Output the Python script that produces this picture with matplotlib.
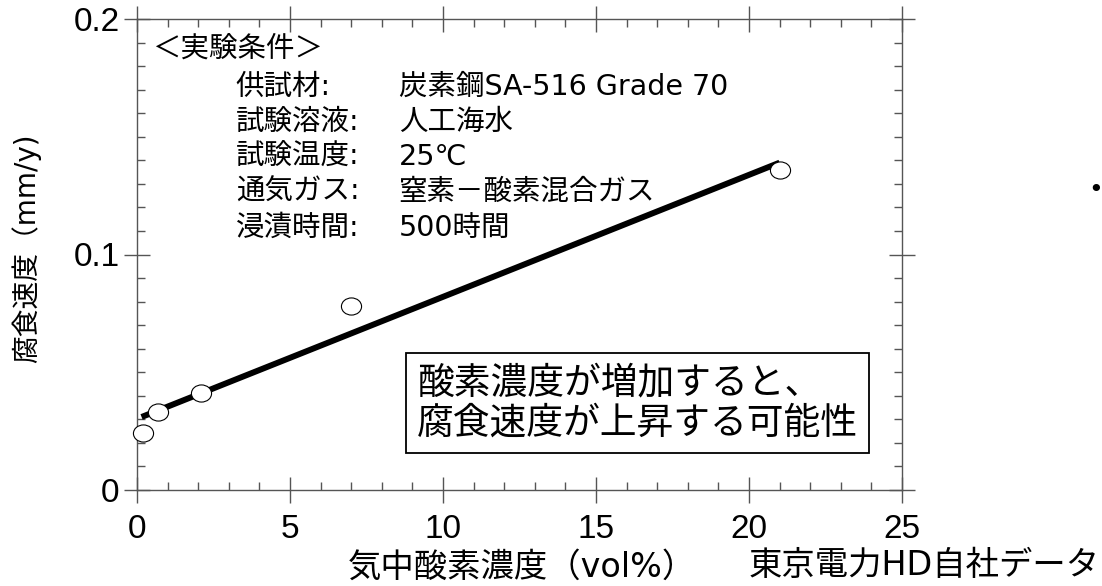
import matplotlib.pyplot as plt
from matplotlib.path import Path
from matplotlib.transforms import Affine2D
from matplotlib.ticker import MultipleLocator

plt.rcParams['font.family'] = ['DejaVu Sans', 'Noto Sans CJK JP']

# データ
o2_conc = [0.2, 0.7, 2.1, 7.0, 21.0]          # 気中酸素濃度 (vol%)
corr_rate = [0.024, 0.033, 0.041, 0.078, 0.136]  # 腐食速度 (mm/y)
fit_x = [0.15, 21.0]
fit_y = [0.031, 0.139]

y_ticks = [0, 0.1, 0.2]
y_ticklabels = ["0", "0.1", "0.2"]

cond_labels = ["供試材:", "試験溶液:", "試験温度:", "通気ガス:", "浸漬時間:"]
cond_values = ["炭素鋼SA-516 Grade 70", "人工海水", "25℃", "窒素－酸素混合ガス", "500時間"]

spine_col = "#555555"

fig = plt.figure(figsize=(11.02, 5.86), dpi=100)
ax = fig.add_axes([137 / 1102, 96 / 586, 765 / 1102, 471 / 586])

ax.plot(fit_x, fit_y, color="black", lw=4.3, solid_capstyle="butt", zorder=2)

ellipse = Path.unit_circle().transformed(Affine2D().scale(1.0, 0.85))
ax.plot(o2_conc, corr_rate, ls="none", marker=ellipse, ms=14.5,
        mfc="white", mec="black", mew=0.8, zorder=3, clip_on=False)

ax.set_xlim(0, 25)
ax.set_ylim(0, 0.2)
ax.xaxis.set_major_locator(MultipleLocator(5))
ax.xaxis.set_minor_locator(MultipleLocator(1))
ax.set_yticks(y_ticks, labels=y_ticklabels)
ax.yaxis.set_minor_locator(MultipleLocator(0.01))

for s in ax.spines.values():
    s.set_color(spine_col)
    s.set_linewidth(1.0)
ax.tick_params(which="major", direction="inout", length=19, width=1.0,
               color=spine_col, top=True, right=True, labelsize=24)
ax.tick_params(which="minor", direction="in", length=5.5, width=1.0,
               color=spine_col, top=True, right=True)
ax.tick_params(axis="x", which="major", pad=8)
ax.tick_params(axis="y", which="major", pad=3)
for lab in ax.get_xticklabels() + ax.get_yticklabels():
    lab.set_fontfamily("Liberation Sans")

# 実験条件
ax.text(0.0196, 0.938, "＜実験条件＞", transform=ax.transAxes,
        fontsize=20.5, va="center", ha="left")
rows_y = [0.8556, 0.7813, 0.707, 0.6327, 0.5563]
for yy, lab, val in zip(rows_y, cond_labels, cond_values):
    ax.text(0.129, yy, lab, transform=ax.transAxes, fontsize=20.5,
            va="center", ha="left")
    ax.text(0.342, yy, val, transform=ax.transAxes, fontsize=20.5,
            va="center", ha="left")

ax.text(0.366, 0.1847, "酸素濃度が増加すると、\n腐食速度が上昇する可能性",
        transform=ax.transAxes, fontsize=26.5, va="center", ha="left",
        linespacing=1.12,
        bbox=dict(boxstyle="square,pad=0.3", fc="white", ec="black", lw=1.3))

fig.text(26 / 1102, 1 - 248 / 586, "腐食速度（mm/y)", rotation=90,
         fontsize=20, ha="center", va="center")
fig.text(522 / 1102, 1 - 567 / 586, "気中酸素濃度（vol%）",
         fontsize=24, ha="center", va="center")
fig.text(1100 / 1102, 1 - 566 / 586, "東京電力HD自社データ",
         fontsize=24, ha="right", va="center")
fig.text(1096 / 1102, 1 - 190 / 586, "•", fontsize=18, ha="center",
         va="center")

fig.savefig("out.png", dpi=100)
